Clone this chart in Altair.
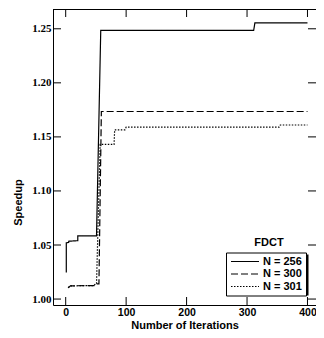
import altair as alt
import pandas as pd

series = ["N = 256", "N = 300", "N = 301"]
n256_x = [1, 1, 5, 5, 20, 20, 51, 58, 311, 313, 400]
n256_y = [1.0245, 1.0520, 1.0525, 1.0535, 1.0540, 1.0585, 1.0585, 1.2485, 1.2485, 1.2555, 1.2555]
n300_x = [4, 8, 47, 49, 55, 59, 400]
n300_y = [1.0105, 1.0122, 1.0125, 1.0140, 1.0140, 1.1735, 1.1735]
n301_x = [4, 8, 47, 49, 51, 57, 80, 81, 98, 100, 353, 355, 400]
n301_y = [1.0105, 1.0122, 1.0125, 1.0140, 1.0140, 1.1430, 1.1430, 1.1565, 1.1565, 1.1590, 1.1590, 1.1610, 1.1610]
x_ticks = [0, 100, 200, 300, 400]
y_ticks = [1.00, 1.05, 1.10, 1.15, 1.20, 1.25]

W, H = 263, 296

rows = []
for name, xs, ys in [(series[0], n256_x, n256_y), (series[1], n300_x, n300_y), (series[2], n301_x, n301_y)]:
    for i, (a, b) in enumerate(zip(xs, ys)):
        rows.append({"series": name, "iter": a, "speedup": b, "i": i})
df = pd.DataFrame(rows)
xt = pd.DataFrame({"xv": x_ticks})
yt = pd.DataFrame({"yv": y_ticks})

sans = "Liberation Sans"
serif = "Liberation Serif"

xscale = alt.Scale(domain=[-21.0, 414.1], nice=False, zero=False)
yscale = alt.Scale(domain=[0.9945, 1.2683], nice=False, zero=False)

axis_common = dict(ticks=False, grid=False, domain=True, domainColor="black", domainWidth=1)

lines = alt.Chart(df).mark_line(color="black", strokeWidth=1.2).encode(
    x=alt.X("iter:Q", scale=xscale, axis=alt.Axis(
        values=x_ticks, **axis_common,
        labelFont=sans, labelFontWeight="bold", labelFontSize=10.5, labelColor="black",
        labelPadding=2, title="Number of Iterations", titleFont=sans, titleFontWeight="bold",
        titleFontSize=11, titleColor="black", titleY=23, titleBaseline="alphabetic")),
    y=alt.Y("speedup:Q", scale=yscale, axis=alt.Axis(
        values=y_ticks, format=".2f", **axis_common,
        labelFont=serif, labelFontWeight="bold", labelFontSize=11, labelColor="black",
        labelPadding=2, title="Speedup", titleFont=sans, titleFontWeight="bold",
        titleFontSize=11, titleColor="black", titleX=-35, titleY=193, titleAngle=270,
        titleBaseline="middle", titleAlign="center")),
    strokeDash=alt.StrokeDash("series:N", scale=alt.Scale(domain=series, range=[[1, 0], [7, 3], [1.5, 1.5]]),
        legend=alt.Legend(orient="none", legendX=173, legendY=243.5, title=None,
            symbolType="stroke", symbolSize=784, symbolStrokeColor="black", symbolStrokeWidth=1.2,
            labelFont=sans, labelFontSize=11, labelFontWeight="bold", labelColor="black",
            labelOffset=3, padding=4, strokeColor="black", fillColor="white",
            clipHeight=10, rowPadding=1.5)),
    order=alt.Order("i:Q"),
)

shadow = alt.Chart(pd.DataFrame({"a": [0]})).mark_rect(color="black").encode(
    x=alt.value(175), x2=alt.value(255.5), y=alt.value(245.5), y2=alt.value(286.5))

fdct = alt.Chart(pd.DataFrame({"a": [0]})).mark_text(
    font=sans, fontWeight="bold", fontSize=11, color="black", align="center", baseline="middle"
).encode(x=alt.value(216), y=alt.value(233.5), text=alt.value("FDCT"))

top_frame = alt.Chart(pd.DataFrame({"a": [0]})).mark_rule(color="black", strokeWidth=1).encode(
    x=alt.value(0), x2=alt.value(W), y=alt.value(0.5))

ytl = alt.Chart(yt).mark_rule(color="black", strokeWidth=1).encode(
    y=alt.Y("yv:Q"), x=alt.value(0), x2=alt.value(8))
ytr = alt.Chart(yt).mark_rule(color="black", strokeWidth=1).encode(
    y=alt.Y("yv:Q"), x=alt.value(W - 8), x2=alt.value(W))
xtb = alt.Chart(xt).mark_rule(color="black", strokeWidth=1).encode(
    x=alt.X("xv:Q"), y=alt.value(H - 8), y2=alt.value(H))
xtt = alt.Chart(xt).mark_rule(color="black", strokeWidth=1).encode(
    x=alt.X("xv:Q"), y=alt.value(0), y2=alt.value(8))

chart = alt.layer(lines, ytl, ytr, xtb, xtt, top_frame, shadow, fdct).properties(
    width=W, height=H,
    autosize=alt.AutoSizeParams(type="none"),
    padding={"left": 45, "top": 1, "right": 0, "bottom": 24},
    background="white",
).configure_view(stroke=None)

chart.save("out.html", embed_options={"renderer": "svg", "actions": False})
